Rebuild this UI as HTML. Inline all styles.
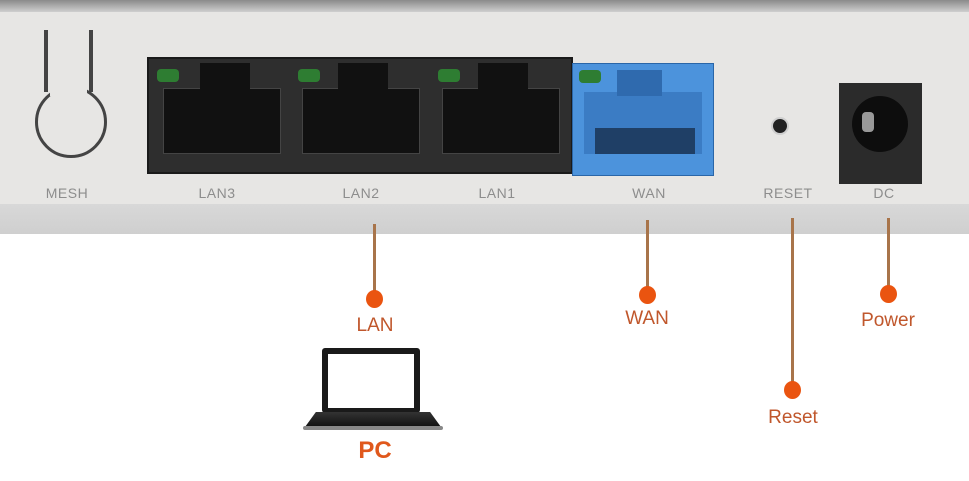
<!DOCTYPE html>
<html><head><style>
body{margin:0;width:969px;height:481px;background:#fff;position:relative;overflow:hidden;font-family:"Liberation Sans",sans-serif}
div{position:absolute;box-sizing:border-box}
.lbl{color:#8d8d8d;font-size:14px;top:185px;width:80px;text-align:center;letter-spacing:.5px}
.port{background:#111;border:1px solid #444}
.led{background:#2e7d32;width:22px;height:13px;border-radius:4px}
.line{width:3px;background:#a8744a}
.dot{width:17px;height:18px;border-radius:50%;background:#ea5410}
.t{color:#c0572c;font-size:19px;width:100px;text-align:center}
</style></head><body>
<div style="left:0;top:0;width:969px;height:12px;background:linear-gradient(#8a8a8a,#cfcfcf)"></div>
<div style="left:0;top:12px;width:969px;height:192px;background:#e7e6e4"></div>
<div style="left:0;top:204px;width:969px;height:30px;background:linear-gradient(#d8d8d8,#cfcfcf)"></div>
<!-- mesh -->
<div style="left:35px;top:86px;width:72px;height:72px;border:3px solid #444;border-radius:50%"></div>
<div style="left:44px;top:30px;width:4px;height:62px;background:#444"></div>
<div style="left:89px;top:30px;width:4px;height:62px;background:#444"></div>
<div style="left:50px;top:24px;width:37px;height:72px;background:#e7e6e4"></div>
<!-- LAN block -->
<div style="left:147px;top:57px;width:426px;height:117px;background:#2e2e2e;border:2px solid #1a1a1a"></div>
<div class="port" style="left:163px;top:88px;width:118px;height:66px"></div>
<div class="port" style="left:200px;top:63px;width:50px;height:30px;border:none"></div>
<div class="port" style="left:302px;top:88px;width:118px;height:66px"></div>
<div class="port" style="left:338px;top:63px;width:50px;height:30px;border:none"></div>
<div class="port" style="left:442px;top:88px;width:118px;height:66px"></div>
<div class="port" style="left:478px;top:63px;width:50px;height:30px;border:none"></div>
<div class="led" style="left:157px;top:69px"></div>
<div class="led" style="left:298px;top:69px"></div>
<div class="led" style="left:438px;top:69px"></div>
<!-- WAN -->
<div style="left:572px;top:63px;width:142px;height:113px;background:#4c93dc;border:1px solid #2a66a8"></div>
<div style="left:584px;top:92px;width:118px;height:62px;background:#3b7cc4"></div>
<div style="left:617px;top:70px;width:45px;height:26px;background:#2f6aae"></div>
<div style="left:595px;top:128px;width:100px;height:26px;background:#1f3f66"></div>
<div class="led" style="left:579px;top:70px"></div>
<!-- reset / dc -->
<div style="left:771px;top:117px;width:18px;height:18px;border-radius:50%;background:#222;border:2px solid #cfcfcf"></div>
<div style="left:839px;top:83px;width:83px;height:101px;background:#2b2b2b"></div>
<div style="left:852px;top:96px;width:56px;height:56px;border-radius:50%;background:#0d0d0d"></div>
<div style="left:862px;top:112px;width:12px;height:20px;border-radius:4px;background:#999"></div>
<!-- labels -->
<div class="lbl" style="left:27px">MESH</div>
<div class="lbl" style="left:177px">LAN3</div>
<div class="lbl" style="left:321px">LAN2</div>
<div class="lbl" style="left:457px">LAN1</div>
<div class="lbl" style="left:609px">WAN</div>
<div class="lbl" style="left:748px">RESET</div>
<div class="lbl" style="left:844px">DC</div>
<!-- connectors -->
<div class="line" style="left:373px;top:224px;height:74px"></div>
<div class="dot" style="left:366px;top:290px"></div>
<div class="t" style="left:325px;top:315px">LAN</div>
<div class="line" style="left:646px;top:220px;height:75px"></div>
<div class="dot" style="left:639px;top:286px"></div>
<div class="t" style="left:597px;top:308px">WAN</div>
<div class="line" style="left:791px;top:218px;height:172px"></div>
<div class="dot" style="left:784px;top:381px"></div>
<div class="t" style="left:743px;top:407px">Reset</div>
<div class="line" style="left:887px;top:218px;height:76px"></div>
<div class="dot" style="left:880px;top:285px"></div>
<div class="t" style="left:838px;top:310px">Power</div>
<!-- laptop -->
<div style="left:322px;top:348px;width:98px;height:65px;background:#1a1a1a;border-radius:3px"></div>
<div style="left:328px;top:354px;width:86px;height:54px;background:#fff"></div>
<div style="left:305px;top:412px;width:136px;height:15px;background:linear-gradient(#333,#111);clip-path:polygon(8% 0,92% 0,100% 100%,0 100%)"></div>
<div style="left:303px;top:426px;width:140px;height:4px;background:#888;border-radius:2px"></div>
<div style="left:325px;top:437px;width:100px;text-align:center;color:#e0581c;font-size:24px;font-weight:bold">PC</div>
</body></html>
